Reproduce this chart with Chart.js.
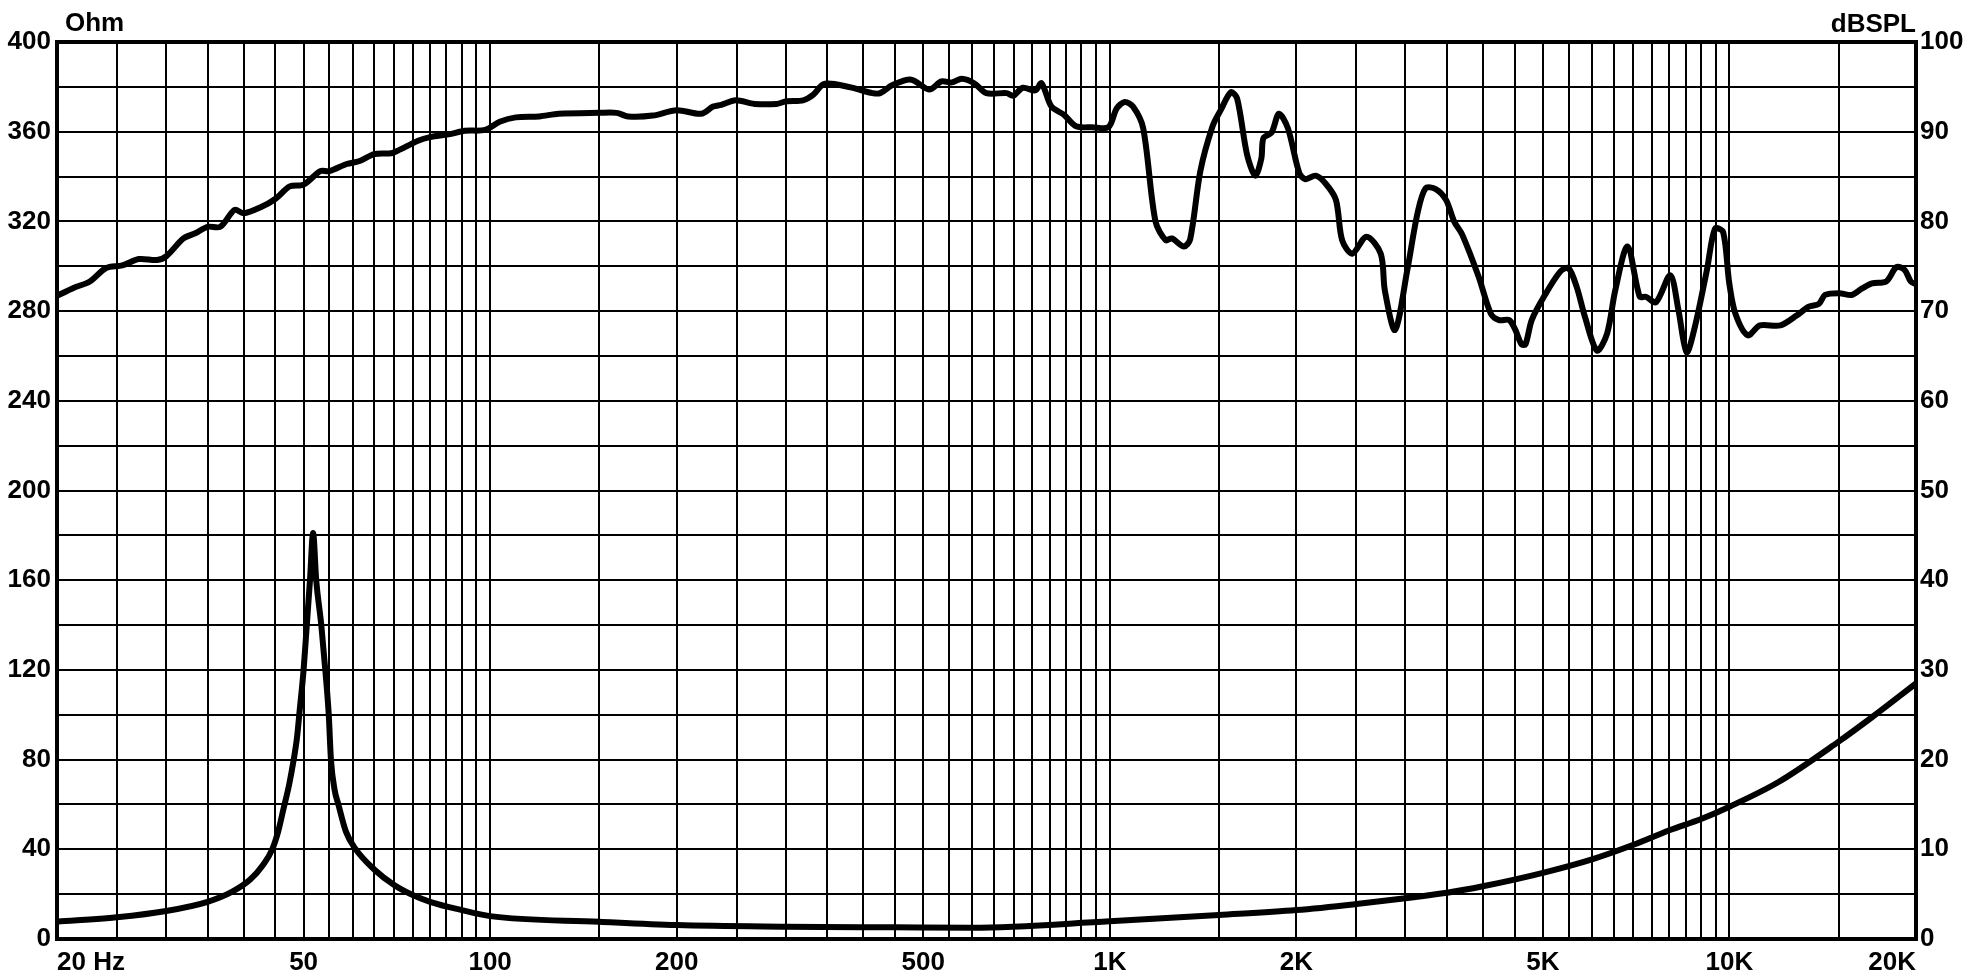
<!DOCTYPE html>
<html>
<head>
<meta charset="utf-8">
<title>SPL / impedance</title>
<script src="https://cdn.jsdelivr.net/npm/chart.js@4.4.1/dist/chart.umd.min.js"></script>
<style>
html, body { margin: 0; padding: 0; background: #fff; }
#chart { display: block; }
</style>
</head>
<body>
<canvas id="chart" width="1973" height="979"></canvas>
<script>
// SPL response (right axis, dBSPL)
var splFreq = [20, 21.3, 22.6, 24, 25.5, 27.1, 29, 30, 32, 33.5, 35, 36.7, 38.7, 40, 42.7, 45, 47.5, 50, 53.2, 55,
    58.7, 61.4, 65, 69.3, 71.5, 76.5, 80, 85.7, 91, 98.2, 103.6, 110, 120, 129, 150, 160, 167, 183,
    200, 219, 229, 236, 249, 267, 290, 301, 320, 332, 345, 361, 389, 414, 426, 446, 478, 511, 535, 556, 577, 604,
    632, 682, 698, 724, 758, 776, 805, 843, 882, 937, 995, 1026, 1057, 1090, 1132, 1185, 1231, 1259, 1317, 1348,
    1400, 1465, 1510, 1568, 1605, 1666, 1717, 1756, 1770, 1824, 1875, 1938, 2022, 2069, 2149, 2231, 2317, 2371,
    2462, 2596, 2737, 2779, 2886, 3021, 3137, 3233, 3357, 3488, 3595, 3706, 3939, 4121, 4248, 4412, 4513, 4617,
    4687, 4796, 5018, 5332, 5497, 5668, 5843, 6111, 6346, 6541, 6846, 7164, 7328, 7613, 8026, 8273, 8528, 8791,
    9197, 9477, 9769, 9993, 10224, 10702, 11196, 12079, 12833, 13427, 13945, 14264, 15040, 15743, 16349, 16981,
    17904, 18599, 19170, 19616, 20000];
var splDb = [71.7, 72.6, 73.3, 74.8, 75.1, 75.8, 75.7, 76.1, 78.1, 78.7, 79.4, 79.4, 81.3, 80.9, 81.6, 82.5, 83.9, 84.1, 85.6, 85.6,
    86.4, 86.7, 87.5, 87.6, 88.0, 89.0, 89.4, 89.7, 90.1, 90.2, 91.1, 91.6, 91.7, 92.0, 92.1, 92.1, 91.7, 91.8,
    92.4, 92.0, 92.8, 93.0, 93.5, 93.1, 93.1, 93.4, 93.5, 94.1, 95.3, 95.3, 94.8, 94.3, 94.3, 95.2, 95.8, 94.7, 95.6, 95.5, 95.9, 95.4,
    94.3, 94.3, 94.0, 94.9, 94.6, 95.4, 92.8, 91.9, 90.6, 90.5, 90.5, 92.6, 93.3, 92.8, 90.4, 80.0, 77.9, 78.1, 77.2, 78.0,
    85.6, 90.6, 92.4, 94.4, 93.7, 87.4, 85.1, 87.0, 89.3, 89.9, 92.0, 90.4, 85.4, 84.7, 85.1, 84.2, 82.4, 77.9,
    76.4, 78.3, 76.4, 72.3, 67.9, 74.6, 80.9, 83.7, 83.6, 82.4, 80.0, 78.5, 73.8, 69.7, 69.0, 69.0, 67.9, 66.3,
    66.3, 69.0, 71.6, 74.4, 74.8, 72.7, 69.4, 65.6, 67.5, 72.3, 77.2, 71.6, 71.6, 71.0, 74.0, 70.1, 65.4, 68.2,
    74.6, 79.2, 78.8, 73.1, 69.7, 67.3, 68.4, 68.4, 69.5, 70.5, 70.8, 71.8, 72.0, 71.8, 72.5, 73.1,
    73.3, 74.9, 74.6, 73.3, 73.0];

// impedance (left axis, Ohm)
var impFreq = [20, 25, 30, 35, 38.3, 41, 43, 44.5, 45.5, 46.4, 47.4, 48.2, 48.8, 49.2, 50, 50.6, 51.2, 51.8,
    52.4, 53.4, 54.2, 54.9, 55.35, 56.1, 56.9, 58.5, 60.5, 65, 70, 75, 80, 90, 100, 150, 200, 300, 450, 600,
    1000, 1500, 2000, 2500, 3000, 3500, 4000, 5000, 6000, 7000, 8000, 9000, 10000, 12000, 15000, 17000, 20000];
var impOhm = [7.7, 9.7, 12.5, 16.6, 21, 26.5, 33, 40, 48, 58, 69, 80, 90, 100, 120, 140, 160, 181,
    160, 140, 120, 100, 80, 66.6, 60, 48, 40.5, 31, 24.1, 19.6, 16.6, 12.9, 10.2, 7.7, 6.2, 5.5, 5.2, 5.0,
    7.9, 10.7, 12.9, 15.6, 18.2, 20.6, 23.5, 29.5, 35.5, 42, 48.5, 53.5, 59, 70, 88, 99, 114];

var xLabelFreq = [20, 50, 100, 200, 500, 1000, 2000, 5000, 10000, 20000];
var xLabelText = ['20 Hz', '50', '100', '200', '500', '1K', '2K', '5K', '10K', '20K'];

// vertical grid: steps of 5 Hz, 50 Hz, 500 Hz, 5 kHz per decade
var gridFreqs = [];
[10, 100, 1000, 10000].forEach(function (b) {
    for (var k = 2; k <= 20; k++) {
        var v = b * k / 2;
        if (v >= 20 && v <= 20000 && gridFreqs.indexOf(v) < 0) gridFreqs.push(v);
    }
});

var FONT = '"Liberation Sans", Arial, sans-serif';
var tickFont = { family: FONT, size: 26, weight: 'bold' };

function toPoints(xs, ys) {
    return xs.map(function (x, i) { return { x: x, y: ys[i] }; });
}

var framePlugin = {
    id: 'frame',
    beforeDraw: function (chart) {
        var ctx = chart.ctx;
        ctx.save();
        ctx.fillStyle = '#fff';
        ctx.fillRect(0, 0, chart.width, chart.height);
        ctx.restore();
    },
    afterDraw: function (chart) {
        var ctx = chart.ctx, a = chart.chartArea;
        ctx.save();
        ctx.strokeStyle = '#000';
        ctx.lineWidth = 4;
        ctx.strokeRect(a.left, a.top, a.right - a.left, a.bottom - a.top);
        ctx.fillStyle = '#000';
        ctx.font = 'bold 26px ' + FONT;
        ctx.textBaseline = 'alphabetic';
        ctx.textAlign = 'left';
        ctx.fillText('Ohm', a.left + 8, 31);
        ctx.textAlign = 'right';
        ctx.fillText('dBSPL', a.right, 32);
        ctx.restore();
    }
};

new Chart(document.getElementById('chart'), {
    type: 'line',
    data: {
        datasets: [{
            label: 'SPL',
            data: toPoints(splFreq, splDb),
            yAxisID: 'yR',
            borderColor: '#000',
            borderWidth: 6,
            pointRadius: 0,
            tension: 0.3,
            fill: false
        }, {
            label: 'Impedance',
            data: toPoints(impFreq, impOhm),
            yAxisID: 'yL',
            borderColor: '#000',
            borderWidth: 6,
            pointRadius: 0,
            cubicInterpolationMode: 'monotone',
            fill: false
        }]
    },
    options: {
        responsive: false,
        devicePixelRatio: 1,
        animation: false,
        layout: { padding: { top: 42, left: 0, right: 0, bottom: 0 } },
        plugins: { legend: { display: false }, tooltip: { enabled: false } },
        scales: {
            x: {
                type: 'logarithmic',
                min: 20,
                max: 20000,
                afterBuildTicks: function (scale) {
                    scale.ticks = gridFreqs.map(function (v) { return { value: v }; });
                },
                afterFit: function (scale) { scale.height = 40; },
                grid: { color: '#000', lineWidth: 2, drawTicks: false },
                border: { display: false },
                ticks: {
                    autoSkip: false,
                    maxRotation: 0,
                    align: 'inner',
                    padding: 8,
                    color: '#000',
                    font: tickFont,
                    callback: function (v) {
                        var i = xLabelFreq.indexOf(v);
                        return i >= 0 ? xLabelText[i] : '';
                    }
                }
            },
            yL: {
                type: 'linear',
                position: 'left',
                min: 0,
                max: 400,
                afterFit: function (scale) { scale.width = 57; },
                grid: { color: '#000', lineWidth: 2, drawTicks: false },
                border: { display: false },
                ticks: {
                    stepSize: 20,
                    autoSkip: false,
                    padding: 6,
                    color: '#000',
                    font: tickFont,
                    callback: function (v) { return v % 40 === 0 ? String(v) : ''; }
                }
            },
            yR: {
                type: 'linear',
                position: 'right',
                min: 0,
                max: 100,
                afterFit: function (scale) { scale.width = 57; },
                grid: { display: false, drawTicks: false },
                border: { display: false },
                ticks: {
                    stepSize: 10,
                    padding: 4,
                    color: '#000',
                    font: tickFont
                }
            }
        }
    },
    plugins: [framePlugin]
});
</script>
</body>
</html>
